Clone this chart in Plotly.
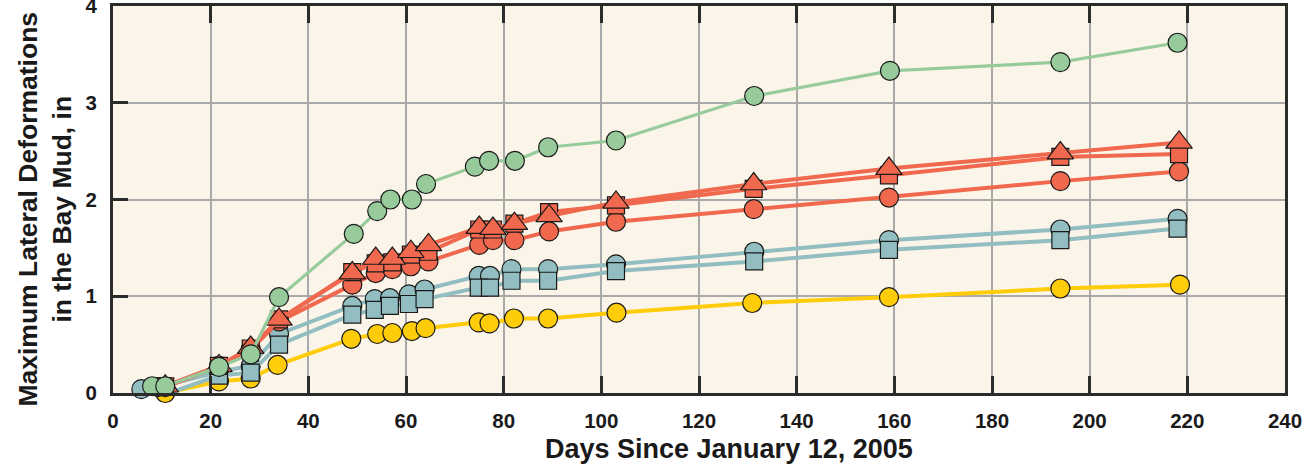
import plotly.graph_objects as go

# ---- data ----
green_x = [8.0, 10.7, 21.7, 28.2, 34.0, 49.3, 54.1, 56.8, 61.2, 64.1, 74.1, 77.0, 82.3, 89.1, 103.0, 131.3, 159.1, 194.0, 218.0]
green_y = [0.07, 0.07, 0.27, 0.40, 0.99, 1.645, 1.88, 2.00, 2.00, 2.16, 2.34, 2.40, 2.40, 2.54, 2.61, 3.07, 3.33, 3.42, 3.62]

red_x = [10.7, 21.7, 28.2, 34.0, 49.0, 53.8, 57.2, 61.0, 64.6, 75.0, 77.8, 82.2, 89.3, 103.0, 131.2, 158.9, 194.0, 218.3]
red_tri_y = [0.07, 0.28, 0.47, 0.76, 1.24, 1.39, 1.39, 1.46, 1.53, 1.71, 1.70, 1.75, 1.83, 1.97, 2.16, 2.32, 2.48, 2.59]
red_sq_y = [0.07, 0.28, 0.46, 0.76, 1.25, 1.34, 1.35, 1.43, 1.46, 1.69, 1.69, 1.75, 1.87, 1.94, 2.11, 2.25, 2.44, 2.47]
red_circ_y = [0.06, 0.28, 0.45, 0.74, 1.12, 1.24, 1.28, 1.31, 1.36, 1.53, 1.58, 1.58, 1.67, 1.77, 1.90, 2.02, 2.19, 2.29]

blue_x = [5.8, 9.2, 21.7, 28.2, 34.0, 49.0, 53.6, 56.7, 60.6, 63.8, 74.9, 77.2, 81.6, 89.1, 103.0, 131.3, 158.9, 194.0, 218.0]
blue_circ_y = [0.04, 0.06, 0.22, 0.28, 0.61, 0.90, 0.97, 0.98, 1.02, 1.07, 1.21, 1.21, 1.28, 1.28, 1.33, 1.46, 1.58, 1.69, 1.80]
blue_sq_y = [-0.06, -0.04, 0.18, 0.21, 0.50, 0.81, 0.86, 0.90, 0.92, 0.97, 1.09, 1.09, 1.16, 1.16, 1.26, 1.36, 1.48, 1.58, 1.70]

yellow_x = [10.7, 21.7, 28.2, 33.7, 48.8, 54.1, 57.2, 61.2, 64.0, 74.9, 77.1, 82.1, 89.1, 103.1, 130.9, 158.9, 194.0, 218.5]
yellow_y = [0.00, 0.12, 0.15, 0.29, 0.56, 0.61, 0.62, 0.64, 0.67, 0.73, 0.72, 0.77, 0.77, 0.83, 0.93, 0.99, 1.08, 1.12]

x_ticks = [0, 20, 40, 60, 80, 100, 120, 140, 160, 180, 200, 220, 240]
y_ticks = [0, 1, 2, 3, 4]

x_title = "Days Since January 12, 2005"
y_title_1 = "Maximum Lateral Deformations"
y_title_2 = "in the Bay Mud, in"

GREEN = "#98CB9C"
RED = "#F0684D"
BLUE = "#92BEC2"
YELLOW = "#FFCC0A"

fig = go.Figure()

def add(x, y, color, symbol, size, lw):
    fig.add_trace(go.Scatter(
        x=x, y=y, mode="lines+markers",
        line=dict(color=color, width=lw),
        marker=dict(symbol=symbol, size=size, color=color,
                    line=dict(color="#1a1a1a", width=1.2)),
        cliponaxis=False, showlegend=False, hoverinfo="x+y"))

add(yellow_x, yellow_y, YELLOW, "circle", 19, 4)
add(blue_x, blue_circ_y, BLUE, "circle", 19, 4)
add(blue_x, blue_sq_y, BLUE, "square", 17, 4)
add(red_x, red_circ_y, RED, "circle", 19, 4)
add(red_x, red_sq_y, RED, "square", 17, 4)
add(red_x, red_tri_y, RED, "triangle-up", 23, 4)
add(green_x, green_y, GREEN, "circle", 19, 3.2)

FONT = "Liberation Sans, Arial, sans-serif"

fig.update_layout(
    width=1307, height=468,
    margin=dict(l=113, r=22, t=6, b=75),
    paper_bgcolor="white",
    plot_bgcolor="#FBF5E9",
    font=dict(family=FONT, size=20, color="#1a1a1a"),
    xaxis=dict(
        range=[0, 240], tickvals=x_ticks, ticktext=[str(v) for v in x_ticks],
        showgrid=True, gridcolor="#A9A9A9", gridwidth=1.5,
        showline=True, linecolor="#2b2b2b", linewidth=3, mirror="ticks",
        ticks="inside", ticklen=17, tickwidth=2.5, tickcolor="#2b2b2b",
        tickfont=dict(family=FONT, size=20.5, color="#1a1a1a", weight="bold"),
        ticklabelstandoff=7, zeroline=False, automargin=False,
        ticklabeloverflow="allow",
    ),
    yaxis=dict(
        range=[0, 4], tickvals=y_ticks, ticktext=[str(v) for v in y_ticks],
        showgrid=True, gridcolor="#A9A9A9", gridwidth=1.5,
        showline=True, linecolor="#2b2b2b", linewidth=3, mirror=True,
        ticks="inside", ticklen=15, tickwidth=2.5, tickcolor="#2b2b2b",
        tickfont=dict(family=FONT, size=20.5, color="#1a1a1a", weight="bold"),
        ticklabelstandoff=9, zeroline=False, automargin=False,
        ticklabeloverflow="allow",
    ),
    annotations=[
        dict(text=x_title, xref="paper", yref="paper", x=0.526, y=-0.144,
             xanchor="center", yanchor="middle", showarrow=False,
             font=dict(family=FONT, size=27, color="#1a1a1a", weight="bold")),
        dict(text=y_title_1, xref="paper", yref="paper", x=-0.0725, y=0.474,
             xanchor="center", yanchor="middle", showarrow=False, textangle=-90,
             font=dict(family=FONT, size=26.5, color="#1a1a1a", weight="bold")),
        dict(text=y_title_2, xref="paper", yref="paper", x=-0.0435, y=0.474,
             xanchor="center", yanchor="middle", showarrow=False, textangle=-90,
             font=dict(family=FONT, size=26.5, color="#1a1a1a", weight="bold")),
    ],
)

fig.write_html("out.html", config={"displayModeBar": False},
               post_script="document.body.style.margin='0';")
